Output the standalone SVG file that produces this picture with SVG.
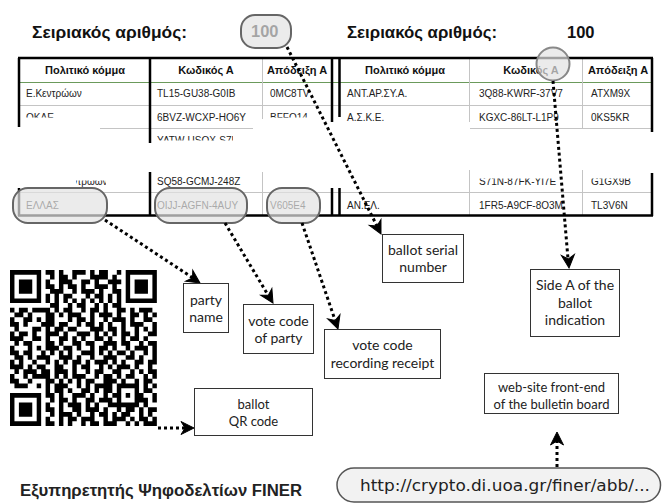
<svg xmlns="http://www.w3.org/2000/svg" xmlns:xlink="http://www.w3.org/1999/xlink" width="662" height="504" viewBox="0 0 662 504">
<style>
.ti{font-family:"Liberation Sans",Arial,sans-serif;font-weight:bold;font-size:16.5px;fill:#111}
.hd{font-family:"Liberation Sans",Arial,sans-serif;font-weight:bold;font-size:11px;fill:#111;text-anchor:middle}
.td{font-family:"Liberation Sans",Arial,sans-serif;font-size:10px;fill:#222}
.lb{font-family:Lato,"Open Sans",sans-serif;font-size:14px;fill:#222;text-anchor:middle}
.sm{font-size:13px}
.box{fill:#fff;stroke:#333;stroke-width:1}
.tk{stroke:#000;stroke-width:2.5;fill:none}
.gr{stroke:#c4c4c4;stroke-width:1;fill:none}
.gn{stroke:#6b9a5b;stroke-width:1;fill:none}
.hl{fill:#e2e2e2;fill-opacity:0.7;stroke:#666;stroke-width:2}
.con{fill:none;stroke:#000;stroke-width:3;stroke-dasharray:3 3}
.ah{fill:#000;stroke:#000;stroke-width:1;stroke-linejoin:miter}
</style>
<defs>
<path id="ahd" d="M0,0 L-13,-6.5 L-9,0 L-13,6.5 z"/>
<clipPath id="c1"><rect x="0" y="100" width="662" height="17.5"/></clipPath>
<clipPath id="c2"><rect x="150" y="130" width="83" height="10.5"/></clipPath>
<clipPath id="c3"><rect x="460" y="178.5" width="200" height="12"/></clipPath>
<clipPath id="c4"><rect x="76" y="180.5" width="30" height="10"/></clipPath>
</defs>

<g id="titles">
<text class="ti" x="32" y="38" textLength="155" lengthAdjust="spacingAndGlyphs">Σειριακός αριθμός:</text>
<text class="ti" x="251" y="37" fill="#333">100</text>
<text class="ti" x="347" y="38" textLength="150" lengthAdjust="spacingAndGlyphs">Σειριακός αριθμός:</text>
<text class="ti" x="567" y="38">100</text>
</g>

<g id="table">
<path class="gn" d="M19 82.5H652"/>
<path class="gr" d="M19 105.5H652M100 128.5H253M470 128.5H652M19 192.5H652M262.5 58V119M262.5 172V215M469.5 58V122M469.5 170V215M582.5 58V128M582.5 170V215"/>
<path class="tk" d="M18 58H653M18 215.5H653M19 58V127M19 188V216M150 58V143M150 172V216M332 58V122M339.5 58V117M332 188V216M339.5 188V216M652 58V132M652 173V216"/>
<text class="hd" x="85" y="74">Πολιτικό κόμμα</text>
<text class="hd" x="206" y="74">Κωδικός Α</text>
<text class="hd" x="297" y="74">Απόδειξη Α</text>
<text class="hd" x="405" y="74">Πολιτικό κόμμα</text>
<text class="hd" x="531" y="74">Κωδικός Α</text>
<text class="hd" x="618" y="74">Απόδειξη Α</text>
<text class="td" x="26" y="97">Ε.Κεντρώων</text>
<text class="td" x="157" y="97">TL15-GU38-G0IB</text>
<text class="td" x="270" y="97">0MC8TV</text>
<text class="td" x="347" y="97">ΑΝΤ.ΑΡ.ΣΥ.Α.</text>
<text class="td" x="479" y="97">3Q88-KWRF-37V7</text>
<text class="td" x="591" y="97">ATXM9X</text>
<text class="td" x="26" y="120.5" clip-path="url(#c1)">ΟΚΔΕ</text>
<text class="td" x="157" y="120.5">6BVZ-WCXP-HO6Y</text>
<text class="td" x="270" y="120.5" clip-path="url(#c1)">BFFO14</text>
<text class="td" x="347" y="120.5">Α.Σ.Κ.Ε.</text>
<text class="td" x="479" y="120.5">KGXC-86LT-L1P9</text>
<text class="td" x="591" y="120.5">0KS5KR</text>
<text class="td" x="157" y="144" clip-path="url(#c2)">YATW-USQX-S7LK</text>
<text class="td" x="26" y="184.5" clip-path="url(#c4)">Ένωση Κεντρώων</text>
<text class="td" x="157" y="184.5">SQ58-GCMJ-248Z</text>
<text class="td" x="479" y="184.5" clip-path="url(#c3)">S71N-87FK-YI7E</text>
<text class="td" x="591" y="184.5" clip-path="url(#c3)">G1GX9B</text>
<text class="td" x="26" y="208.5">ΕΛΛΑΣ</text>
<text class="td" x="157" y="208.5">OIJJ-AGFN-4AUY</text>
<text class="td" x="270" y="208.5">V605E4</text>
<text class="td" x="347" y="208.5">ΑΝ.ΕΛ.</text>
<text class="td" x="479" y="208.5">1FR5-A9CF-8O3M</text>
<text class="td" x="591" y="208.5">TL3V6N</text>
</g>

<g id="highlights">
<rect id="hl-serial" class="hl" x="241" y="15" width="50" height="33" rx="14"/>
<rect id="hl-party" class="hl" x="13" y="188" width="94" height="35" rx="15"/>
<rect id="hl-code" class="hl" x="155" y="188" width="92" height="35" rx="15"/>
<rect id="hl-receipt" class="hl" x="267" y="188" width="53" height="35" rx="15"/>
<circle id="hl-side" class="hl" cx="553" cy="64" r="16.5" style="stroke:#888"/>
</g>

<g id="qr" transform="translate(10,270) scale(4.45,4.73)">
<path fill="#000" d="M0 0h7v1H0zM8 0h2v1H8zM11 0h1v1h-1zM14 0h3v1h-3zM18 0h1v1h-1zM20 0h2v1h-2zM24 0h1v1h-1zM26 0h7v1h-7z
M0 1h1v1H0zM6 1h1v1H6zM9 1h1v1H9zM11 1h2v1h-2zM14 1h1v1h-1zM18 1h4v1h-4zM23 1h1v1h-1zM26 1h1v1h-1zM32 1h1v1h-1z
M0 2h1v1H0zM2 2h3v1H2zM6 2h1v1H6zM8 2h1v1H8zM11 2h3v1h-3zM16 2h2v1h-2zM19 2h1v1h-1zM22 2h3v1h-3zM26 2h1v1h-1zM28 2h3v1h-3zM32 2h1v1h-1z
M0 3h1v1H0zM2 3h3v1H2zM6 3h1v1H6zM8 3h2v1H8zM11 3h1v1h-1zM13 3h2v1h-2zM16 3h1v1h-1zM19 3h3v1h-3zM23 3h1v1h-1zM26 3h1v1h-1zM28 3h3v1h-3zM32 3h1v1h-1z
M0 4h1v1H0zM2 4h3v1H2zM6 4h1v1H6zM9 4h3v1H9zM14 4h1v1h-1zM16 4h3v1h-3zM20 4h1v1h-1zM23 4h2v1h-2zM26 4h1v1h-1zM28 4h3v1h-3zM32 4h1v1h-1z
M0 5h1v1H0zM6 5h1v1H6zM8 5h1v1H8zM10 5h1v1h-1zM12 5h2v1h-2zM17 5h1v1h-1zM19 5h2v1h-2zM22 5h1v1h-1zM24 5h1v1h-1zM26 5h1v1h-1zM32 5h1v1h-1z
M0 6h7v1H0zM8 6h1v1H8zM10 6h1v1h-1zM12 6h1v1h-1zM14 6h1v1h-1zM16 6h1v1h-1zM18 6h1v1h-1zM20 6h1v1h-1zM22 6h1v1h-1zM24 6h1v1h-1zM26 6h7v1h-7z
M9 7h2v1H9zM13 7h1v1h-1zM15 7h2v1h-2zM19 7h1v1h-1zM21 7h1v1h-1zM23 7h2v1h-2z
M0 8h1v1H0zM2 8h2v1H2zM5 8h4v1H5zM10 8h1v1h-1zM12 8h2v1h-2zM16 8h1v1h-1zM18 8h2v1h-2zM21 8h1v1h-1zM24 8h2v1h-2zM27 8h1v1h-1zM29 8h3v1h-3z
M1 9h2v1H1zM4 9h1v1H4zM8 9h2v1H8zM11 9h1v1h-1zM13 9h3v1h-3zM18 9h1v1h-1zM20 9h3v1h-3zM24 9h1v1h-1zM27 9h2v1h-2zM30 9h1v1h-1zM32 9h1v1h-1z
M0 10h1v1H0zM3 10h2v1H3zM6 10h1v1H6zM8 10h2v1H8zM13 10h1v1h-1zM15 10h2v1h-2zM18 10h1v1h-1zM21 10h1v1h-1zM23 10h3v1h-3zM27 10h1v1h-1zM30 10h2v1h-2z
M0 11h2v1H0zM3 11h1v1H3zM7 11h3v1H7zM11 11h2v1h-2zM15 11h1v1h-1zM17 11h2v1h-2zM20 11h1v1h-1zM22 11h1v1h-1zM25 11h1v1h-1zM27 11h3v1h-3zM32 11h1v1h-1z
M1 12h1v1H1zM5 12h2v1H5zM8 12h1v1H8zM10 12h2v1h-2zM13 12h2v1h-2zM18 12h3v1h-3zM22 12h2v1h-2zM25 12h1v1h-1zM28 12h1v1h-1zM30 12h1v1h-1zM32 12h1v1h-1z
M0 13h1v1H0zM2 13h2v1H2zM5 13h1v1H5zM8 13h3v1H8zM12 13h1v1h-1zM15 13h3v1h-3zM19 13h1v1h-1zM21 13h1v1h-1zM23 13h1v1h-1zM25 13h2v1h-2zM28 13h1v1h-1zM31 13h2v1h-2z
M0 14h3v1H0zM5 14h2v1H5zM8 14h1v1H8zM11 14h2v1h-2zM14 14h1v1h-1zM16 14h1v1h-1zM19 14h2v1h-2zM22 14h1v1h-1zM25 14h1v1h-1zM27 14h2v1h-2zM30 14h1v1h-1z
M1 15h1v1H1zM3 15h2v1H3zM8 15h2v1H8zM11 15h1v1h-1zM14 15h2v1h-2zM17 15h2v1h-2zM21 15h3v1h-3zM25 15h2v1h-2zM29 15h1v1h-1zM31 15h2v1h-2z
M0 16h1v1H0zM4 16h1v1H4zM6 16h1v1H6zM8 16h3v1H8zM12 16h2v1h-2zM15 16h1v1h-1zM18 16h1v1h-1zM20 16h2v1h-2zM23 16h1v1h-1zM26 16h1v1h-1zM28 16h3v1h-3zM32 16h1v1h-1z
M0 17h2v1H0zM3 17h2v1H3zM7 17h1v1H7zM9 17h1v1H9zM11 17h1v1h-1zM13 17h1v1h-1zM16 17h3v1h-3zM20 17h1v1h-1zM22 17h1v1h-1zM24 17h2v1h-2zM27 17h1v1h-1zM30 17h1v1h-1zM32 17h1v1h-1z
M1 18h2v1H1zM4 18h1v1H4zM6 18h3v1H6zM11 18h3v1h-3zM15 18h1v1h-1zM18 18h1v1h-1zM21 18h3v1h-3zM26 18h2v1h-2zM29 18h1v1h-1zM32 18h1v1h-1z
M0 19h1v1H0zM2 19h1v1H2zM5 19h1v1H5zM8 19h1v1H8zM10 19h1v1h-1zM12 19h1v1h-1zM14 19h2v1h-2zM17 19h1v1h-1zM19 19h3v1h-3zM23 19h1v1h-1zM25 19h1v1h-1zM28 19h2v1h-2zM31 19h2v1h-2z
M0 20h3v1H0zM4 20h1v1H4zM6 20h2v1H6zM10 20h2v1h-2zM14 20h1v1h-1zM16 20h2v1h-2zM20 20h1v1h-1zM22 20h1v1h-1zM24 20h3v1h-3zM28 20h1v1h-1zM31 20h1v1h-1z
M1 21h1v1H1zM3 21h3v1H3zM7 21h2v1H7zM10 21h3v1h-3zM14 21h1v1h-1zM17 21h1v1h-1zM19 21h2v1h-2zM23 21h2v1h-2zM27 21h1v1h-1zM29 21h1v1h-1zM31 21h2v1h-2z
M0 22h1v1H0zM3 22h1v1H3zM5 22h4v1H5zM10 22h1v1h-1zM12 22h1v1h-1zM14 22h3v1h-3zM19 22h1v1h-1zM21 22h2v1h-2zM24 22h1v1h-1zM26 22h2v1h-2zM30 22h1v1h-1zM32 22h1v1h-1z
M0 23h2v1H0zM4 23h1v1H4zM8 23h2v1H8zM11 23h1v1h-1zM13 23h1v1h-1zM15 23h1v1h-1zM17 23h2v1h-2zM21 23h3v1h-3zM25 23h1v1h-1zM28 23h1v1h-1zM30 23h2v1h-2z
M1 24h3v1H1zM6 24h1v1H6zM8 24h1v1H8zM10 24h3v1h-3zM15 24h1v1h-1zM17 24h1v1h-1zM19 24h4v1h-4zM24 24h5v1h-5zM30 24h1v1h-1zM32 24h1v1h-1z
M8 25h1v1H8zM10 25h2v1h-2zM13 25h1v1h-1zM16 25h2v1h-2zM19 25h1v1h-1zM21 25h2v1h-2zM24 25h1v1h-1zM28 25h1v1h-1zM30 25h2v1h-2z
M0 26h7v1H0zM8 26h2v1H8zM11 26h1v1h-1zM14 26h3v1h-3zM18 26h1v1h-1zM21 26h1v1h-1zM23 26h2v1h-2zM26 26h1v1h-1zM28 26h2v1h-2zM32 26h1v1h-1z
M0 27h1v1H0zM6 27h1v1H6zM9 27h1v1H9zM11 27h2v1h-2zM14 27h1v1h-1zM17 27h2v1h-2zM20 27h3v1h-3zM24 27h1v1h-1zM28 27h3v1h-3zM32 27h1v1h-1z
M0 28h1v1H0zM2 28h3v1H2zM6 28h1v1H6zM8 28h1v1H8zM11 28h1v1h-1zM13 28h3v1h-3zM17 28h1v1h-1zM19 28h1v1h-1zM22 28h7v1h-7zM30 28h1v1h-1z
M0 29h1v1H0zM2 29h3v1H2zM6 29h1v1H6zM8 29h2v1H8zM11 29h1v1h-1zM14 29h2v1h-2zM17 29h3v1h-3zM21 29h1v1h-1zM24 29h1v1h-1zM26 29h2v1h-2zM29 29h1v1h-1zM31 29h2v1h-2z
M0 30h1v1H0zM2 30h3v1H2zM6 30h1v1H6zM9 30h1v1H9zM11 30h3v1h-3zM15 30h1v1h-1zM18 30h1v1h-1zM20 30h2v1h-2zM23 30h1v1h-1zM25 30h2v1h-2zM29 30h1v1h-1zM31 30h1v1h-1z
M0 31h1v1H0zM6 31h1v1H6zM8 31h1v1H8zM11 31h1v1h-1zM13 31h2v1h-2zM16 31h3v1h-3zM21 31h1v1h-1zM23 31h3v1h-3zM27 31h1v1h-1zM29 31h2v1h-2zM32 31h1v1h-1z
M0 32h7v1H0zM8 32h2v1H8zM11 32h1v1h-1zM13 32h1v1h-1zM16 32h1v1h-1zM18 32h2v1h-2zM21 32h3v1h-3zM26 32h1v1h-1zM28 32h1v1h-1zM30 32h3v1h-3z"/>
</g>

<g id="connectors">
<path class="con" d="M287 47L377 226"/>
<path class="con" d="M105 220L193 278"/>
<path class="con" d="M225 223L268 295"/>
<path class="con" d="M302 223L335 320"/>
<path class="con" d="M553 81L568 259"/>
<path class="con" d="M557 467L557 441"/>
<path class="con" d="M158 428L185 428"/>
<use xlink:href="#ahd" class="ah" transform="translate(381,234) rotate(63.3)"/>
<use xlink:href="#ahd" class="ah" transform="translate(200,283) rotate(33.6)"/>
<use xlink:href="#ahd" class="ah" transform="translate(273,303) rotate(59)"/>
<use xlink:href="#ahd" class="ah" transform="translate(338,329) rotate(71.2)"/>
<use xlink:href="#ahd" class="ah" transform="translate(569,268) rotate(85.1)"/>
<use xlink:href="#ahd" class="ah" transform="translate(557,432) rotate(-90)"/>
<use xlink:href="#ahd" class="ah" transform="translate(194,428)"/>
</g>

<g id="n-serial"><rect class="box" x="382.5" y="234.5" width="81" height="48"/><text class="lb" x="423" y="255">ballot serial</text><text class="lb" x="423" y="272">number</text></g>
<g id="n-party"><rect class="box" x="183.5" y="283.5" width="45" height="49"/><text class="lb" x="206" y="305">party</text><text class="lb" x="206" y="322">name</text></g>
<g id="n-code"><rect class="box" x="243.5" y="304.5" width="70" height="49"/><text class="lb" x="278.5" y="326">vote code</text><text class="lb" x="278.5" y="343">of party</text></g>
<g id="n-receipt"><rect class="box" x="324.5" y="329.5" width="116" height="49"/><text class="lb" x="382.5" y="350">vote code</text><text class="lb" x="382.5" y="368">recording receipt</text></g>
<g id="n-side"><rect class="box" x="530.5" y="269.5" width="89" height="67"/><text class="lb" x="575" y="290">Side A of the</text><text class="lb" x="575" y="307.5">ballot</text><text class="lb" x="575" y="325">indication</text></g>
<g id="n-qr"><rect class="box" x="194.5" y="388.5" width="118" height="47"/><text class="lb sm" x="253.5" y="409">ballot</text><text class="lb sm" x="253.5" y="426">QR code</text></g>
<g id="n-web"><rect class="box" x="484.5" y="373.5" width="134" height="40"/><text class="lb sm" x="551.5" y="392">web-site front-end</text><text class="lb sm" x="551.5" y="409">of the bulletin board</text></g>

<g id="n-url"><rect x="337" y="468" width="323.5" height="34" rx="17" fill="#f2f2f2" stroke="#555" stroke-width="1.5"/><text x="360" y="490.5" font-family="'DejaVu Sans',sans-serif" font-size="15" fill="#222" textLength="290" lengthAdjust="spacingAndGlyphs">http://crypto.di.uoa.gr/finer/abb/...</text></g>

<g id="footer"><text x="20" y="496" font-family="'Liberation Sans',Arial,sans-serif" font-weight="bold" font-size="16" fill="#222" textLength="282" lengthAdjust="spacingAndGlyphs">Εξυπηρετητής Ψηφοδελτίων FINER</text></g>
</svg>
